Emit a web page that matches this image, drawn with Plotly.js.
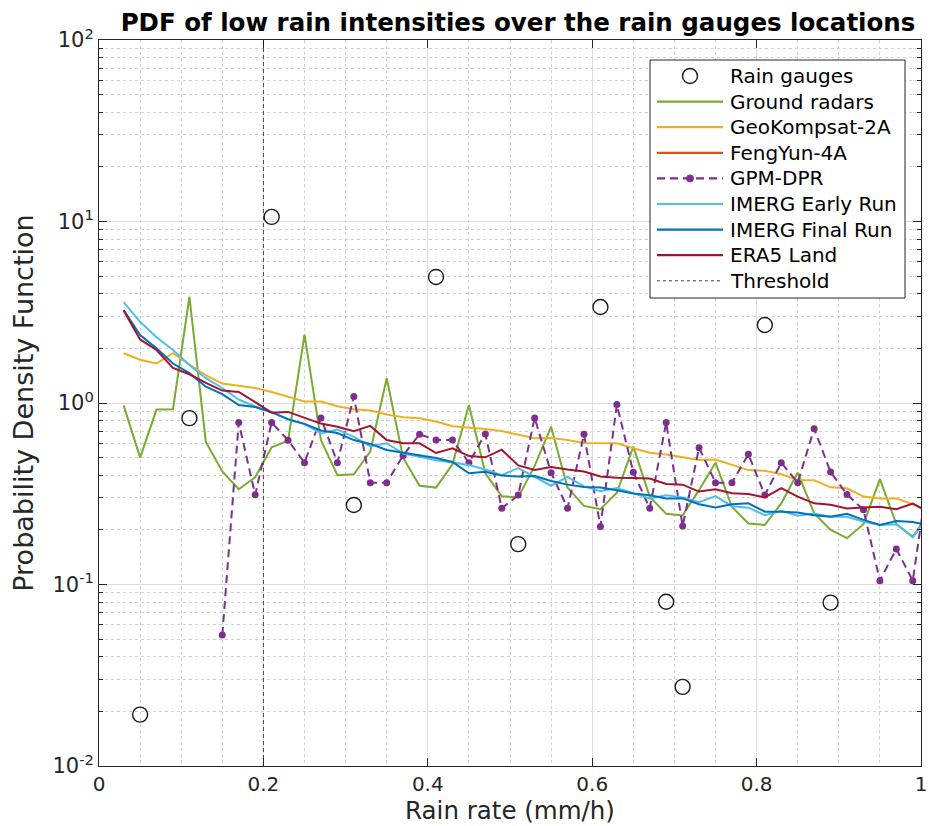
<!DOCTYPE html>
<html>
<head>
<meta charset="utf-8">
<script src="https://cdn.plot.ly/plotly-3.0.1.min.js"></script>
<style>html,body{margin:0;padding:0;background:#fff;}#chart{width:930px;height:826px;}</style>
</head>
<body>
<div id="chart"></div>
<script>
// Bin centres (mm/h)
const binX = [0.03,0.05,0.07,0.09,0.11,0.13,0.15,0.17,0.19,0.21,0.23,0.25,0.27,0.29,0.31,0.33,0.35,0.37,0.39,0.41,0.43,0.45,0.47,0.49,0.51,0.53,0.55,0.57,0.59,0.61,0.63,0.65,0.67,0.69,0.71,0.73,0.75,0.77,0.79,0.81,0.83,0.85,0.87,0.89,0.91,0.93,0.95,0.97,0.99,1.01];

const gaugeX = [0.05,0.11,0.21,0.31,0.41,0.51,0.61,0.69,0.71,0.81,0.89];
const gaugeY = [0.0192,0.825,10.6,0.274,4.95,0.167,3.38,0.0804,0.0273,2.69,0.0795];

const groundRadars = [0.97,0.50,0.92,0.925,3.85,0.61,0.42,0.335,0.39,0.57,0.62,2.38,0.625,0.40,0.405,0.54,1.37,0.50,0.35,0.342,0.46,0.975,0.41,0.306,0.303,0.45,0.74,0.342,0.271,0.26,0.32,0.575,0.305,0.245,0.24,0.332,0.469,0.268,0.217,0.213,0.28,0.413,0.247,0.20,0.18,0.215,0.381,0.215,0.183,0.248];

const geoKompsat = [1.88,1.73,1.65,1.88,1.63,1.42,1.28,1.24,1.21,1.15,1.08,1.02,1.02,0.96,0.925,0.91,0.865,0.835,0.825,0.79,0.745,0.735,0.72,0.70,0.67,0.64,0.642,0.625,0.602,0.60,0.60,0.563,0.532,0.52,0.503,0.485,0.488,0.455,0.427,0.423,0.405,0.377,0.375,0.343,0.339,0.305,0.298,0.298,0.277,0.25];

// FengYun-4A: no visible curve in the reference (legend entry only)
const fengYunX = [null];
const fengYun = [null];

const gpmDpr = [null,null,null,null,null,null,0.0527,0.78,0.312,0.78,0.623,0.469,0.828,0.469,1.085,0.364,0.364,0.514,0.673,0.625,0.625,0.469,0.675,0.263,0.311,0.828,0.413,0.263,0.673,0.209,0.98,0.416,0.263,0.78,0.21,0.567,0.364,0.364,0.522,0.311,0.469,0.364,0.722,0.417,0.313,0.258,0.105,0.157,0.105,0.44];

const imergEarly = [3.6,2.8,2.3,1.96,1.62,1.37,1.21,1.045,0.957,0.888,0.81,0.765,0.68,0.715,0.65,0.578,0.60,0.527,0.505,0.483,0.47,0.455,0.43,0.40,0.438,0.392,0.35,0.392,0.347,0.327,0.34,0.318,0.298,0.31,0.302,0.284,0.307,0.27,0.265,0.241,0.255,0.239,0.246,0.236,0.236,0.222,0.213,0.215,0.182,0.241];

const imergFinal = [3.25,2.37,2.0,1.65,1.46,1.23,1.12,0.975,0.95,0.89,0.815,0.767,0.705,0.683,0.625,0.595,0.551,0.533,0.518,0.498,0.473,0.41,0.418,0.398,0.394,0.396,0.372,0.355,0.344,0.342,0.331,0.317,0.31,0.298,0.298,0.277,0.266,0.277,0.28,0.252,0.252,0.249,0.241,0.236,0.245,0.227,0.213,0.224,0.221,0.211];

const era5Land = [3.23,2.24,1.96,1.56,1.44,1.29,1.17,1.15,1.01,0.885,0.893,0.828,0.77,0.74,0.70,0.748,0.625,0.60,0.60,0.53,0.563,0.51,0.502,0.553,0.453,0.428,0.444,0.43,0.419,0.394,0.387,0.386,0.384,0.358,0.355,0.325,0.335,0.318,0.315,0.302,0.34,0.305,0.28,0.275,0.262,0.266,0.268,0.26,0.279,0.25];

const thresholdX = [0.2,0.2];
const thresholdY = [0.01,100];

const yTickVals = [0.01,0.1,1,10,100];
const yTickText = ['10<sup>-2</sup>','10<sup>-1</sup>','10<sup>0</sup>','10<sup>1</sup>','10<sup>2</sup>'];
const xTickVals = [0,0.2,0.4,0.6,0.8,1];
const xTickText = ['0','0.2','0.4','0.6','0.8','1'];

const legendNames = ['Rain gauges','Ground radars','GeoKompsat-2A','FengYun-4A','GPM-DPR','IMERG Early Run','IMERG Final Run','ERA5 Land','Threshold'];

const FONT = 'DejaVu Sans, Liberation Sans, sans-serif';
const C = {gauge:'#1a1a1a', green:'#77AC30', yellow:'#EDB120', orange:'#D95319', purple:'#7E2F8E', lblue:'#4DBEEE', blue:'#0072BD', red:'#A2142F', thr:'#444444'};

const lineTrace = (name, y, color, extra) => Object.assign({
  type:'scatter', mode:'lines', name:name, x:binX, y:y,
  line:{color:color, width:2}, hoverinfo:'skip'
}, extra||{});

const traces = [
  {type:'scatter', mode:'markers', name:legendNames[0], x:gaugeX, y:gaugeY,
   marker:{symbol:'circle-open', size:15, color:C.gauge, line:{width:1.4, color:C.gauge}}},
  lineTrace(legendNames[1], groundRadars, C.green),
  lineTrace(legendNames[2], geoKompsat, C.yellow),
  {type:'scatter', mode:'lines', name:legendNames[3], x:fengYunX, y:fengYun, line:{color:C.orange, width:2}},
  lineTrace(legendNames[4], gpmDpr, C.purple, {mode:'lines+markers', connectgaps:false,
     line:{color:C.purple, width:2, dash:'8px,5px'}, marker:{size:7, color:C.purple}}),
  lineTrace(legendNames[5], imergEarly, C.lblue),
  lineTrace(legendNames[6], imergFinal, C.blue),
  lineTrace(legendNames[7], era5Land, C.red),
  {type:'scatter', mode:'lines', name:legendNames[8], x:thresholdX, y:thresholdY,
   line:{color:C.thr, width:1, dash:'4px,3px'}}
];

// ---- hand-drawn legend box (layout only, in paper coordinates) ----
const M = {l:99, r:9, t:40, b:60};
const PW = 930 - M.l - M.r, PH = 826 - M.t - M.b;
const px = v => (v - M.l) / PW;
const py = v => (826 - M.b - v) / PH;
const LG = {x0:650, x1:905, y0:60, y1:298, top:76, step:25.6, l0:657, l1:723, tx:730};
const shapes = [
  {type:'rect', xref:'paper', yref:'paper', x0:px(LG.x0), x1:px(LG.x1), y0:py(LG.y0), y1:py(LG.y1),
   fillcolor:'#ffffff', line:{color:'#262626', width:1}, layer:'above'}
];
const annotations = [];
const legendStyle = [
  {kind:'circle', color:C.gauge},
  {kind:'line', color:C.green},
  {kind:'line', color:C.yellow},
  {kind:'line', color:C.orange},
  {kind:'dashdot', color:C.purple},
  {kind:'line', color:C.lblue},
  {kind:'line', color:C.blue},
  {kind:'line', color:C.red},
  {kind:'thr', color:C.thr}
];
legendNames.forEach((name, i) => {
  const yc = LG.top + i * LG.step;
  const st = legendStyle[i];
  const mid = (LG.l0 + LG.l1) / 2;
  if (st.kind === 'circle') {
    shapes.push({type:'circle', xref:'paper', yref:'paper', x0:px(mid-7.5), x1:px(mid+7.5), y0:py(yc+7.5), y1:py(yc-7.5),
      line:{color:st.color, width:1.4}, fillcolor:'rgba(0,0,0,0)', layer:'above'});
  } else {
    const dash = st.kind === 'dashdot' ? '8px,5px' : (st.kind === 'thr' ? '3px,3px' : 'solid');
    const w = st.kind === 'thr' ? 1 : 2.2;
    shapes.push({type:'line', xref:'paper', yref:'paper', x0:px(LG.l0), x1:px(LG.l1), y0:py(yc), y1:py(yc),
      line:{color:st.color, width:w, dash:dash}, layer:'above'});
    if (st.kind === 'dashdot') {
      shapes.push({type:'circle', xref:'paper', yref:'paper', x0:px(mid-3.5), x1:px(mid+3.5), y0:py(yc+3.5), y1:py(yc-3.5),
        line:{color:st.color, width:1}, fillcolor:st.color, layer:'above'});
    }
  }
  annotations.push({xref:'paper', yref:'paper', x:px(LG.tx - 2), y:py(yc), xanchor:'left', yanchor:'middle',
    text:name, showarrow:false, font:{family:FONT, size:20, color:'#000000'}});
});

const layout = {
  width:930, height:826,
  margin:M,
  paper_bgcolor:'#ffffff', plot_bgcolor:'#ffffff',
  font:{family:FONT, color:'#262626', size:20},
  title:{text:'<b>PDF of low rain intensities over the rain gauges locations</b>',
    font:{family:FONT, size:24.5, color:'#000000'},
    x:px(518), xref:'paper', xanchor:'center', y:1-22/826, yref:'container', yanchor:'middle'},
  showlegend:false,
  shapes:shapes,
  annotations:annotations,
  xaxis:{
    range:[0,1], type:'linear',
    tickvals:xTickVals, ticktext:xTickText,
    ticks:'inside', ticklen:8, tickcolor:'#262626',
    showline:true, linecolor:'#262626', linewidth:1, mirror:'ticks',
    showgrid:true, gridcolor:'#dcdcdc', gridwidth:1,
    minor:{dtick:0.05, showgrid:true, gridcolor:'#d2d2d2', griddash:'dot', gridwidth:1, ticks:''},
    zeroline:false,
    tickfont:{family:FONT, size:20, color:'#262626'},
    title:{text:'Rain rate (mm/h)', font:{family:FONT, size:24.5, color:'#262626'}, standoff:6}
  },
  yaxis:{
    type:'log', range:[-2,2],
    tickvals:yTickVals, ticktext:yTickText,
    ticks:'inside', ticklen:8, tickcolor:'#262626',
    showline:true, linecolor:'#262626', linewidth:1, mirror:'ticks',
    showgrid:true, gridcolor:'#dcdcdc', gridwidth:1,
    minor:{dtick:'D1', showgrid:true, gridcolor:'#d2d2d2', griddash:'dot', gridwidth:1, ticks:'inside', ticklen:4, tickcolor:'#262626'},
    zeroline:false,
    tickfont:{family:FONT, size:21, color:'#262626'},
    title:{text:'Probability Density Function', font:{family:FONT, size:27, color:'#262626'}, standoff:10}
  }
};

Plotly.newPlot('chart', traces, layout, {displayModeBar:false, staticPlot:true});
</script>
</body>
</html>
